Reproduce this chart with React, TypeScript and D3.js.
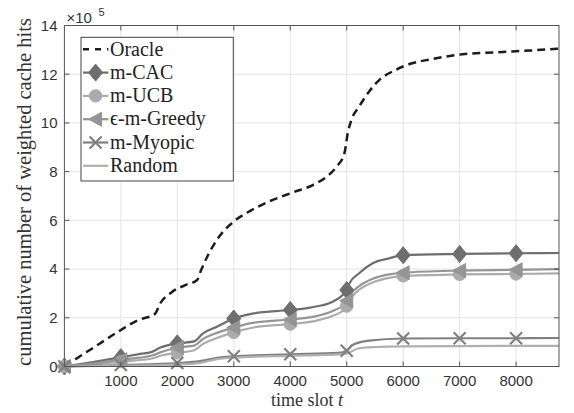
import React from "react";
import * as d3 from "d3";

type Pt = [number, number];

const xTicks = [1000, 2000, 3000, 4000, 5000, 6000, 7000, 8000];
const yTicks = [0, 2, 4, 6, 8, 10, 12, 14];
const markerX = [0, 1000, 2000, 3000, 4000, 5000, 6000, 7000, 8000];

const oracle: Pt[] = [
  [0, 0], [250, 0.38], [500, 0.75], [1000, 1.5], [1300, 1.9], [1600, 2.15], [1700, 2.6],
  [1900, 3.05], [2150, 3.35], [2350, 3.55], [2420, 3.95], [2550, 4.6], [2700, 5.2],
  [3000, 5.95], [3300, 6.4], [3550, 6.7], [4050, 7.15], [4400, 7.45], [4650, 7.8],
  [4820, 8.2], [4960, 8.76], [5020, 9.6], [5080, 10.1], [5220, 10.67], [5400, 11.3],
  [5580, 11.77], [5870, 12.18], [6160, 12.45], [6460, 12.6], [6750, 12.72], [7050, 12.82],
  [7640, 12.9], [8230, 12.97], [8760, 13.05],
];
const mCAC: Pt[] = [
  [0, 0], [500, 0.18], [1000, 0.38], [1300, 0.5], [1550, 0.6], [1700, 0.78], [2000, 0.95],
  [2300, 1.03], [2450, 1.35], [2700, 1.63], [3000, 1.97], [3350, 2.18], [4000, 2.32],
  [4350, 2.42], [4750, 2.66], [4930, 2.94], [5000, 3.14], [5050, 3.42], [5220, 3.83],
  [5460, 4.24], [5750, 4.44], [6000, 4.57], [7000, 4.62], [8000, 4.65], [8760, 4.66],
];
const mUCB: Pt[] = [
  [0, 0], [500, 0.08], [1000, 0.2], [1550, 0.33], [1700, 0.44], [2000, 0.56], [2300, 0.67],
  [2450, 0.92], [2700, 1.17], [3000, 1.4], [3350, 1.6], [4000, 1.74], [4400, 1.85],
  [4750, 2.08], [4950, 2.33], [5000, 2.48], [5080, 2.82], [5220, 3.15], [5460, 3.45],
  [5750, 3.64], [6000, 3.72], [7000, 3.78], [8000, 3.8], [8760, 3.82],
];
const mGreedy: Pt[] = [
  [0, 0], [500, 0.12], [1000, 0.28], [1550, 0.45], [1700, 0.58], [2000, 0.78], [2300, 0.86],
  [2450, 1.12], [2700, 1.38], [3000, 1.6], [3350, 1.8], [4000, 1.93], [4400, 2.04],
  [4750, 2.28], [4950, 2.55], [5000, 2.7], [5080, 3.0], [5220, 3.3], [5460, 3.6],
  [5750, 3.78], [6000, 3.85], [7000, 3.94], [8000, 3.97], [8760, 4.0],
];
const mMyopic: Pt[] = [
  [0, 0], [1000, 0.06], [2000, 0.14], [2400, 0.22], [2700, 0.36], [3000, 0.42], [4000, 0.5],
  [4850, 0.56], [5000, 0.65], [5100, 0.88], [5400, 1.06], [6000, 1.15], [7000, 1.16],
  [8000, 1.16], [8760, 1.17],
];
const random: Pt[] = [
  [0, 0], [1000, 0.03], [2000, 0.08], [2400, 0.15], [2700, 0.3], [3000, 0.37], [4000, 0.44],
  [4900, 0.5], [5050, 0.58], [5200, 0.74], [5500, 0.8], [6000, 0.83], [8760, 0.85],
];

type Marker = "none" | "diamond" | "circle" | "triangle" | "x";
interface Series { name: string; data: Pt[]; color: string; width: number; dash?: string; marker: Marker; }

const series: Series[] = [
  { name: "Oracle", data: oracle, color: "#1c1c1c", width: 2.5, dash: "8,5", marker: "none" },
  { name: "m-CAC", data: mCAC, color: "#6e6e6e", width: 2.2, marker: "diamond" },
  { name: "m-UCB", data: mUCB, color: "#ababab", width: 2.2, marker: "circle" },
  { name: "\u03f5-m-Greedy", data: mGreedy, color: "#959595", width: 2.2, marker: "triangle" },
  { name: "m-Myopic", data: mMyopic, color: "#808080", width: 2.2, marker: "x" },
  { name: "Random", data: random, color: "#b0b0b0", width: 2.2, marker: "none" },
];

const W = 574, H = 413;
const L = 64.4, R = 559, T = 25.5, B = 366.5;

function MarkerShape({ kind, x, y, color }: { kind: Marker; x: number; y: number; color: string }) {
  if (kind === "diamond") {
    return <path d={`M${x},${y - 8.5}L${x + 7},${y}L${x},${y + 8.5}L${x - 7},${y}Z`} fill={color} stroke={color} strokeWidth={1} />;
  }
  if (kind === "circle") return <circle cx={x} cy={y} r={6.2} fill={color} stroke={color} strokeWidth={1} />;
  if (kind === "triangle") {
    return <path d={`M${x - 7},${y}L${x + 6},${y - 7}L${x + 6},${y + 7}Z`} fill={color} stroke={color} strokeWidth={1} />;
  }
  if (kind === "x") {
    const s = 6;
    return <path d={`M${x - s},${y - s}L${x + s},${y + s}M${x - s},${y + s}L${x + s},${y - s}`} stroke={color} strokeWidth={2.2} fill="none" />;
  }
  return null;
}

export default function App() {
  const x = d3.scaleLinear().domain([0, 8760]).range([L, R]);
  const y = d3.scaleLinear().domain([0, 14]).range([B, T]);
  const line = d3.line<Pt>().x((d) => x(d[0])).y((d) => y(d[1])).curve(d3.curveMonotoneX);
  const interp = (data: Pt[], xv: number) => {
    const xs = data.map((d) => d[0]);
    const ys = data.map((d) => d[1]);
    return d3.scaleLinear().domain(xs).range(ys)(xv);
  };
  const axisColor = "#555555";
  const tickFont = "'Liberation Sans', Arial, Helvetica, sans-serif";
  const serif = "'Liberation Serif', 'Times New Roman', serif";

  const legX = 81, legY = 37.3, legW = 152.3, legH = 143.7;
  const rowY0 = 49.3, rowStep = 23.3;

  return (
    <svg width={W} height={H} style={{ position: "absolute", left: 0, top: 0, background: "#fff" }}>
      <rect x={0} y={0} width={W} height={H} fill="#fff" />
      {/* grid */}
      {xTicks.map((t) => (
        <line key={"gx" + t} x1={x(t)} x2={x(t)} y1={T} y2={B} stroke="#e3e3e3" strokeWidth={1} />
      ))}
      {yTicks.map((t) => (
        <line key={"gy" + t} x1={L} x2={R} y1={y(t)} y2={y(t)} stroke="#e3e3e3" strokeWidth={1} />
      ))}
      {/* series lines */}
      {series.map((s) => (
        <path key={s.name} d={line(s.data) || ""} fill="none" stroke={s.color} strokeWidth={s.width}
          strokeDasharray={s.dash} strokeLinejoin="round" />
      ))}
      {/* markers */}
      {series.map((s) =>
        s.marker === "none" ? null : markerX.map((mx) => (
          <MarkerShape key={s.name + mx} kind={s.marker} x={x(mx)} y={y(interp(s.data, mx))} color={s.color} />
        ))
      )}
      {/* axes box */}
      <rect x={L} y={T} width={R - L} height={B - T} fill="none" stroke={axisColor} strokeWidth={1} />
      {xTicks.map((t) => (
        <g key={"tx" + t}>
          <line x1={x(t)} x2={x(t)} y1={B} y2={B - 5} stroke={axisColor} />
          <line x1={x(t)} x2={x(t)} y1={T} y2={T + 5} stroke={axisColor} />
          <text x={x(t)} y={386} textAnchor="middle" fontFamily={tickFont} fontSize={15} fill="#333">{t}</text>
        </g>
      ))}
      {yTicks.map((t) => (
        <g key={"ty" + t}>
          <line x1={L} x2={L + 5} y1={y(t)} y2={y(t)} stroke={axisColor} />
          <line x1={R} x2={R - 5} y1={y(t)} y2={y(t)} stroke={axisColor} />
          <text x={57.5} y={y(t) + 5.3} textAnchor="end" fontFamily={tickFont} fontSize={15} fill="#333">{t}</text>
        </g>
      ))}
      {/* exponent */}
      <text x={66.5} y={23} fontFamily={tickFont} fontSize={15} fill="#333">{"\u00d710"}</text>
      <text x={98.5} y={16} fontFamily={tickFont} fontSize={11} fill="#333">5</text>
      {/* axis labels */}
      <text x={307} y={406} textAnchor="middle" fontFamily={serif} fontSize={18} fill="#333">
        time slot <tspan fontStyle="italic">t</tspan>
      </text>
      <text transform={`translate(31,${(T + B) / 2 - 4}) rotate(-90)`} textAnchor="middle" fontFamily={serif}
        fontSize={20.5} fill="#333">cumulative number of weighted cache hits</text>
      {/* legend */}
      <rect x={legX} y={legY} width={legW} height={legH} fill="#fff" stroke="#444" strokeWidth={1} />
      {series.map((s, i) => {
        const ry = rowY0 + i * rowStep;
        return (
          <g key={"leg" + s.name}>
            <line x1={83} x2={108.3} y1={ry} y2={ry} stroke={s.color} strokeWidth={s.width}
              strokeDasharray={s.dash ? "6,6" : undefined} />
            <MarkerShape kind={s.marker} x={95.6} y={ry} color={s.color} />
            <text x={110} y={ry + 6.2} fontFamily={serif} fontSize={20} fill="#222">{s.name}</text>
          </g>
        );
      })}
    </svg>
  );
}
